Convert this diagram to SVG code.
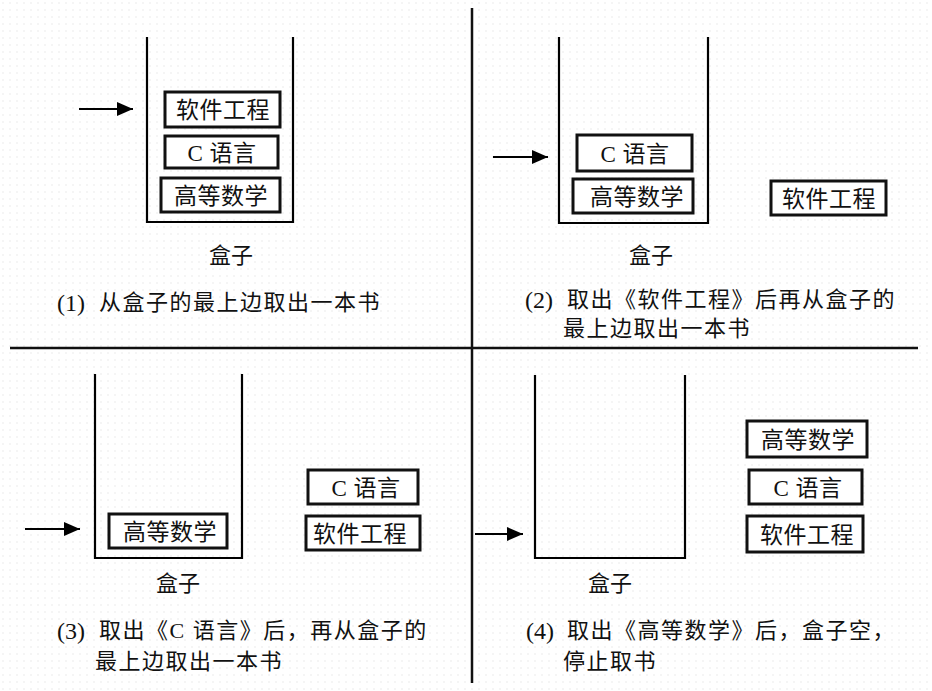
<svg xmlns="http://www.w3.org/2000/svg" width="932" height="691" viewBox="0 0 932 691">
<defs>
<pattern id="dots" width="7" height="7" patternUnits="userSpaceOnUse"><circle cx="3" cy="3" r="0.7" fill="#e4e4e4"/></pattern>
<marker id="ah" viewBox="0 0 16 14" refX="16" refY="7" markerWidth="16" markerHeight="14" markerUnits="userSpaceOnUse" orient="auto"><path d="M0,0 L16,7 L0,14 Z" fill="#000"/></marker>
</defs>
<style>
.t{font-family:"Liberation Serif","Noto Sans CJK SC",serif;font-size:22px;fill:#111}
.n{font-size:24px}
.cj{letter-spacing:1.5px}
.bt{font-family:"Liberation Serif","Noto Sans CJK SC",serif;font-size:23px;fill:#111;text-anchor:middle;letter-spacing:0.5px}
.book{fill:#fff;stroke:#111;stroke-width:3}
.wall{fill:none;stroke:#000;stroke-width:2.2}
.arr{stroke:#000;stroke-width:2;fill:none;marker-end:url(#ah)}
.div{stroke:#111;stroke-width:2.5}
.lbl{font-family:"Liberation Serif","Noto Sans CJK SC",serif;font-size:22px;fill:#111;text-anchor:middle}
</style>
<rect width="932" height="691" fill="#fff"/>
<rect width="932" height="691" fill="url(#dots)"/>

<g id="dividers">
<line class="div" x1="472" y1="8" x2="472" y2="683"/>
<line class="div" x1="10" y1="348" x2="918" y2="348"/>
</g>

<g id="connectors">
<line class="arr" x1="79" y1="109" x2="133" y2="109"/>
<line class="arr" x1="493" y1="157" x2="548" y2="157"/>
<line class="arr" x1="25" y1="529" x2="80" y2="529"/>
<line class="arr" x1="475" y1="534" x2="523" y2="534"/>
</g>

<g id="panel1">
<path class="wall" d="M147,37 V222 H293 V37"/>
<g id="p1-rj"><rect class="book" x="165" y="92" width="115" height="35"/><text class="bt" x="223" y="118">软件工程</text></g>
<g id="p1-c"><rect class="book" x="165" y="136" width="113" height="32"/><text class="bt" x="222" y="161">C 语言</text></g>
<g id="p1-gs"><rect class="book" x="161" y="178" width="119" height="34"/><text class="bt" x="221" y="204">高等数学</text></g>
<text class="lbl" x="231" y="263">盒子</text>
<text class="t n" x="57" y="311">(1)</text><text class="t cj" x="99" y="310">从盒子的最上边取出一本书</text>
</g>

<g id="panel2">
<path class="wall" d="M559,37 V223 H708 V37"/>
<g id="p2-c"><rect class="book" x="577" y="135" width="115" height="36"/><text class="bt" x="635" y="162">C 语言</text></g>
<g id="p2-gs"><rect class="book" x="573" y="179" width="120" height="34"/><text class="bt" x="637" y="205">高等数学</text></g>
<g id="p2-rj"><rect class="book" x="771" y="181" width="115" height="34"/><text class="bt" x="829" y="207">软件工程</text></g>
<text class="lbl" x="651" y="263">盒子</text>
<text class="t n" x="525" y="308">(2)</text><text class="t cj" x="567" y="307">取出《软件工程》后再从盒子的</text>
<text class="t cj" x="563" y="336">最上边取出一本书</text>
</g>

<g id="panel3">
<path class="wall" d="M95,374 V558 H242 V374"/>
<g id="p3-gs"><rect class="book" x="109" y="514" width="118" height="34"/><text class="bt" x="170" y="540">高等数学</text></g>
<g id="p3-c"><rect class="book" x="308" y="470" width="110" height="34"/><text class="bt" x="366" y="496">C 语言</text></g>
<g id="p3-rj"><rect class="book" x="306" y="516" width="114" height="34"/><text class="bt" x="360" y="542">软件工程</text></g>
<text class="lbl" x="178" y="591">盒子</text>
<text class="t n" x="57" y="639">(3)</text><text class="t cj" x="99" y="638">取出《C 语言》后，再从盒子的</text>
<text class="t cj" x="95" y="669">最上边取出一本书</text>
</g>

<g id="panel4">
<path class="wall" d="M535,375 V558 H685 V375"/>
<g id="p4-gs"><rect class="book" x="747" y="421" width="120" height="36"/><text class="bt" x="808" y="448">高等数学</text></g>
<g id="p4-c"><rect class="book" x="749" y="470" width="113" height="34"/><text class="bt" x="808" y="496">C 语言</text></g>
<g id="p4-rj"><rect class="book" x="747" y="516" width="116" height="36"/><text class="bt" x="807" y="543">软件工程</text></g>
<text class="lbl" x="610" y="591">盒子</text>
<text class="t n" x="526" y="639">(4)</text><text class="t cj" x="567" y="638">取出《高等数学》后，盒子空，</text>
<text class="t cj" x="563" y="669">停止取书</text>
</g>
</svg>
